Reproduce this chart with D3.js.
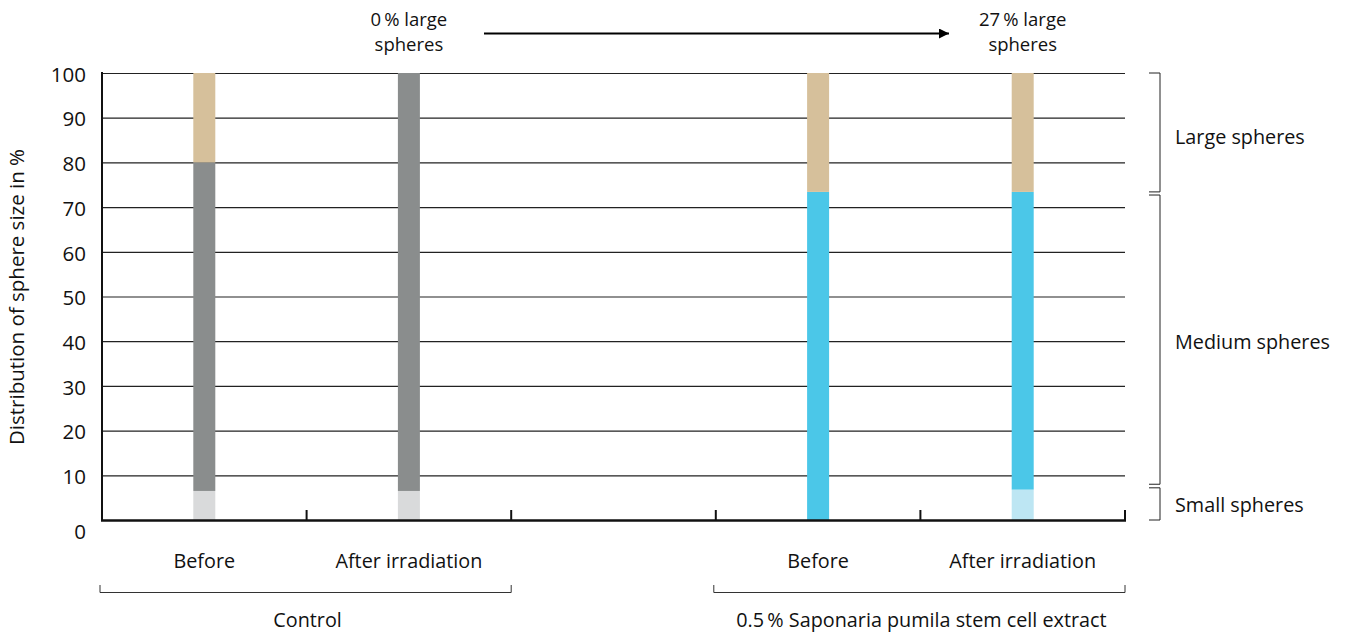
<!DOCTYPE html>
<html><head><meta charset="utf-8">
<script src="https://cdn.jsdelivr.net/npm/d3@7"></script>
<style>
html,body{margin:0;padding:0;background:#fff;}
text{font-family:"Open Sans",Lato,sans-serif;fill:#111;}
</style></head>
<body><svg id="c" width="1346" height="632"></svg>
<script>
const slots = ["c0","c1","gap","s0","s1"];
const barSlots = ["c0","c1","s0","s1"];
const categories = ["Before","After irradiation","Before","After irradiation"];
const groups = ["Control","0.5\u2009% Saponaria pumila stem cell extract"];
const groupSlots = [["c0","c1"],["s0","s1"]];
const smallVals = [6.5, 6.5, 0, 6.8];
const mediumVals = [73.5, 93.5, 73.4, 66.6];
const largeVals = [20, 0, 26.6, 26.6];
const mediumColors = ["#8a8d8d","#8a8d8d","#4bc7e8","#4bc7e8"];
const smallColors = ["#d9dadb","#d9dadb","#bde6f3","#bde6f3"];
const largeColor = "#d6c09b";
const yTicks = [0,10,20,30,40,50,60,70,80,90,100];
const sizeLabels = ["Large spheres","Medium spheres","Small spheres"];
const sizeRanges = [[100,73.4],[72.7,8],[7.2,0]];
const topNotes = [["0\u2009% large","spheres"],["27\u2009% large","spheres"]];
const topNoteSlots = ["c1","s1"];

const svg = d3.select("#c");
const x = d3.scaleBand().domain(slots).range([102,1125]).padding(0);
const y = d3.scaleLinear().domain([0,100]).range([520,73]);
const bw = 22;
const cx = s => x(s) + x.bandwidth()/2;
const FS = 19.8;

// gridlines
svg.append("g").selectAll("line").data(yTicks.filter(d=>d>0)).join("line")
  .attr("x1",102).attr("x2",1125).attr("y1",d=>y(d)+0.5).attr("y2",d=>y(d)+0.5)
  .attr("stroke","#222").attr("stroke-width",1.2);

// y axis
const yAxis = d3.axisLeft(y).tickValues(yTicks).tickSize(0).tickPadding(16);
const ga = svg.append("g").attr("transform","translate(102,0)").call(yAxis);
ga.select(".domain").remove();
ga.selectAll("text").attr("font-size",20.5).attr("font-family","'Open Sans',sans-serif").attr("fill","#111").attr("dy","0.4em");
ga.selectAll(".tick").filter(d=>d===0).select("text").attr("dy","0.9em");

// stacked bars
const stacks = barSlots.map((s,i)=>({s,i,parts:[
  {a:0,b:smallVals[i],c:smallColors[i]},
  {a:smallVals[i],b:smallVals[i]+mediumVals[i],c:mediumColors[i]},
  {a:smallVals[i]+mediumVals[i],b:smallVals[i]+mediumVals[i]+largeVals[i],c:largeColor}
]}));
svg.append("g").selectAll("g").data(stacks).join("g").each(function(d){
  d3.select(this).selectAll("rect").data(d.parts.filter(p=>p.b>p.a)).join("rect")
    .attr("x",cx(d.s)-bw/2).attr("width",bw)
    .attr("y",p=>y(p.b)).attr("height",p=>y(p.a)-y(p.b)).attr("fill",p=>p.c);
});

// axis lines
svg.append("line").attr("x1",102).attr("x2",102).attr("y1",72).attr("y2",521).attr("stroke","#111").attr("stroke-width",2);
svg.append("line").attr("x1",101).attr("x2",1126).attr("y1",520.5).attr("y2",520.5).attr("stroke","#111").attr("stroke-width",2.5);
svg.append("g").selectAll("line").data(slots.slice(1)).join("line")
  .attr("x1",d=>x(d)).attr("x2",d=>x(d)).attr("y1",510).attr("y2",520).attr("stroke","#111").attr("stroke-width",2);
svg.append("line").attr("x1",1125).attr("x2",1125).attr("y1",510).attr("y2",520).attr("stroke","#111").attr("stroke-width",2);

// category labels
svg.append("g").selectAll("text").data(barSlots).join("text")
  .attr("x",d=>cx(d)).attr("y",568).attr("text-anchor","middle").attr("font-size",FS)
  .text((d,i)=>categories[i]);

// group brackets
groupSlots.forEach((gs,i)=>{
  const x0 = x(gs[0]) - 2, x1 = x(gs[1]) + x.bandwidth();
  svg.append("path").attr("d",`M${x0},585V592.5H${x1}V585`).attr("fill","none").attr("stroke","#333").attr("stroke-width",1);
  svg.append("text").attr("x",(x0+x1)/2+2).attr("y",627).attr("text-anchor","middle").attr("font-size",FS).text(groups[i]);
});

// right brackets
sizeRanges.forEach((r,i)=>{
  const ya = y(r[0]), yb = y(r[1]);
  svg.append("path").attr("d",`M1149,${ya}H1160V${yb}H1149`).attr("fill","none").attr("stroke","#222").attr("stroke-width",1);
  svg.append("text").attr("x",1175).attr("y",(ya+yb)/2+[12,9,8][i]).attr("font-size",FS).text(sizeLabels[i]);
});

// top notes and arrow
topNotes.forEach((n,i)=>{
  n.forEach((line,j)=>{
    svg.append("text").attr("x",cx(topNoteSlots[i])).attr("y",[26,51][j]).attr("text-anchor","middle")
      .attr("font-size",18.5).text(line);
  });
});
svg.append("defs").append("marker").attr("id","ah").attr("viewBox","0 0 10 10").attr("refX",10).attr("refY",5)
  .attr("markerWidth",10).attr("markerHeight",10).attr("markerUnits","userSpaceOnUse").attr("orient","auto")
  .append("path").attr("d","M0,0L10,5L0,10Z").attr("fill","#000");
svg.append("line").attr("x1",484).attr("x2",949).attr("y1",33.5).attr("y2",33.5).attr("stroke","#000").attr("stroke-width",2.2).attr("marker-end","url(#ah)");

// y label
svg.append("text").attr("transform","translate(24,297) rotate(-90)").attr("text-anchor","middle").attr("font-size",20.5)
  .text("Distribution of sphere size in %");
</script></body></html>
